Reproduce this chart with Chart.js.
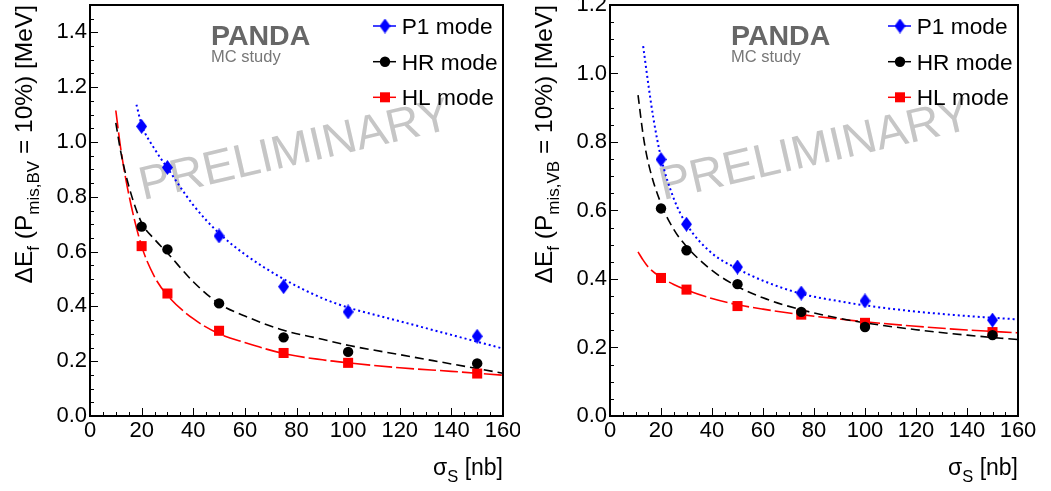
<!DOCTYPE html>
<html>
<head>
<meta charset="utf-8">
<script src="https://cdn.jsdelivr.net/npm/chart.js@4.4.1/dist/chart.umd.min.js"></script>
<style>
  html, body { margin: 0; padding: 0; background: #fff; }
  #wrap { position: relative; width: 1051px; height: 491px; overflow: hidden; }
  .panel { position: absolute; top: 0; height: 491px; }
  #left { left: 0; width: 520px; }
  #right { left: 520px; width: 531px; }
</style>
</head>
<body>
<div id="wrap">
  <div class="panel" id="left"><canvas id="bvChart" width="520" height="491"></canvas></div>
  <div class="panel" id="right"><canvas id="vbChart" width="531" height="491"></canvas></div>
</div>
<script>
const FONT = '"Liberation Sans", Arial, Helvetica, sans-serif';

// measured points, sigma_S in nb
const sigmaPoints = [20, 30, 50, 75, 100, 150];
const modeLabels = ['P1 mode', 'HR mode', 'HL mode'];

// left panel: P_mis,BV = 10%
const bvP1 = [1.057, 0.907, 0.657, 0.472, 0.380, 0.291];
const bvHR = [0.691, 0.608, 0.411, 0.287, 0.234, 0.192];
const bvHL = [0.620, 0.447, 0.311, 0.230, 0.194, 0.155];

// right panel: P_mis,VB = 10%
const vbP1 = [0.749, 0.560, 0.435, 0.359, 0.336, 0.280];
const vbHR = [0.606, 0.484, 0.385, 0.304, 0.260, 0.236];
const vbHL = [0.403, 0.369, 0.321, 0.296, 0.272, 0.245];

// fit curves
const bvFitP1X = [18, 20, 25, 30, 40, 50, 60, 75, 90, 100, 120, 140, 160];
const bvFitP1 = [1.136, 1.063, 0.975, 0.905, 0.77, 0.667, 0.59, 0.50, 0.43, 0.396, 0.346, 0.296, 0.246];
const bvFitX = [10, 12, 15, 20, 25, 30, 40, 50, 60, 75, 90, 100, 120, 140, 160];
const bvFitHR = [1.07, 0.96, 0.84, 0.705, 0.645, 0.595, 0.49, 0.41, 0.365, 0.313, 0.28, 0.258, 0.224, 0.19, 0.156];
const bvFitHL = [1.115, 0.97, 0.81, 0.62, 0.508, 0.44, 0.355, 0.30, 0.268, 0.228, 0.205, 0.194, 0.176, 0.163, 0.149];

const vbFitP1X = [13, 15, 17, 20, 25, 30, 40, 50, 60, 75, 90, 100, 120, 140, 160];
const vbFitP1 = [1.08, 0.97, 0.87, 0.755, 0.635, 0.56, 0.475, 0.43, 0.395, 0.357, 0.335, 0.323, 0.305, 0.292, 0.282];
const vbFitX = [11, 13, 15, 20, 25, 30, 40, 50, 60, 75, 90, 100, 120, 140, 160];
const vbFitHR = [0.937, 0.82, 0.74, 0.62, 0.545, 0.495, 0.425, 0.378, 0.345, 0.31, 0.285, 0.272, 0.252, 0.236, 0.223];
const vbFitHL = [0.479, 0.455, 0.435, 0.405, 0.384, 0.368, 0.343, 0.325, 0.312, 0.296, 0.283, 0.275, 0.262, 0.251, 0.243];

function pts(xs, ys) {
  return xs.map((x, i) => ({ x: x, y: ys[i] }));
}

// narrow ROOT-like diamond marker
function makeDiamond(w, h, color) {
  const c = document.createElement('canvas');
  c.width = w; c.height = h;
  const g = c.getContext('2d');
  g.fillStyle = color;
  g.beginPath();
  g.moveTo(w / 2, 0); g.lineTo(w, h / 2); g.lineTo(w / 2, h); g.lineTo(0, h / 2);
  g.closePath();
  g.fill();
  return c;
}
const diamond = makeDiamond(11, 15, '#0000ff');

function richWidth(ctx, parts) {
  let w = 0;
  parts.forEach(p => { ctx.font = p.size + 'px ' + FONT; w += ctx.measureText(p.t).width; });
  return w;
}
function drawRich(ctx, parts, x, y) {
  parts.forEach(p => {
    ctx.font = p.size + 'px ' + FONT;
    ctx.fillText(p.t, x, y + (p.dy || 0));
    x += ctx.measureText(p.t).width;
  });
}

const rootStyle = {
  id: 'rootStyle',
  beforeDatasetsDraw(chart) {
    const ctx = chart.ctx, ca = chart.chartArea;
    ctx.save();
    ctx.translate(ca.left + 53, ca.top + 195);
    ctx.rotate(-13 * Math.PI / 180);
    ctx.font = '47px ' + FONT;
    ctx.fillStyle = '#c6c6c6';
    ctx.textBaseline = 'alphabetic';
    ctx.fillText('PRELIMINARY', 0, 0);
    ctx.restore();
  },
  afterDraw(chart, args, opts) {
    const ctx = chart.ctx, ca = chart.chartArea;
    const xs = chart.scales.x, ys = chart.scales.y;
    ctx.save();
    ctx.strokeStyle = '#000';

    // inward ticks
    ctx.lineWidth = 1;
    ctx.beginPath();
    for (let v = 0; v <= xs.max; v += 5) {
      const px = Math.round(xs.getPixelForValue(v)) + 0.5;
      const len = v % 20 === 0 ? 8 : 4;
      ctx.moveTo(px, ca.bottom); ctx.lineTo(px, ca.bottom - len);
    }
    for (let k = 0; k * 0.05 <= ys.max + 1e-9; k++) {
      const py = Math.round(ys.getPixelForValue(k * 0.05)) + 0.5;
      const len = k % 4 === 0 ? 8 : 4;
      ctx.moveTo(ca.left, py); ctx.lineTo(ca.left + len, py);
    }
    ctx.stroke();

    // frame
    ctx.lineWidth = 2;
    ctx.strokeRect(ca.left, ca.top, ca.right - ca.left, ca.bottom - ca.top);

    // PANDA label
    ctx.fillStyle = '#676767';
    ctx.textBaseline = 'alphabetic';
    ctx.textAlign = 'left';
    ctx.font = 'bold 28.5px ' + FONT;
    ctx.fillText('PANDA', ca.left + 121, ca.top + 40);
    ctx.fillStyle = '#777';
    ctx.font = '16.5px ' + FONT;
    ctx.fillText('MC study', ca.left + 121, ca.top + 56.5);

    // legend
    const mx = ca.right - 118;
    const rows = [21, 56.7, 92.3];
    const colors = ['#0000ff', '#000000', '#ff0000'];
    rows.forEach((r, i) => {
      const y = ca.top + r;
      ctx.strokeStyle = colors[i];
      ctx.lineWidth = 1.5;
      ctx.beginPath(); ctx.moveTo(mx - 12, y); ctx.lineTo(mx + 11, y); ctx.stroke();
      ctx.fillStyle = colors[i];
      if (i === 0) ctx.drawImage(diamond, mx - diamond.width / 2, y - diamond.height / 2);
      if (i === 1) { ctx.beginPath(); ctx.arc(mx, y, 5.2, 0, Math.PI * 2); ctx.fill(); }
      if (i === 2) ctx.fillRect(mx - 5, y - 5, 10, 10);
      ctx.fillStyle = '#000';
      ctx.font = '22.7px ' + FONT;
      ctx.fillText(modeLabels[i], mx + 16.7, y + 8);
    });

    // x title
    ctx.fillStyle = '#000';
    const xt = [{ t: 'σ', size: 23 }, { t: 'S', size: 16.5, dy: 7 }, { t: ' [nb]', size: 23 }];
    drawRich(ctx, xt, ca.right - richWidth(ctx, xt), 475);

    // y title
    const yt = [
      { t: 'ΔE', size: 24.5 }, { t: 'f', size: 17, dy: 7 },
      { t: ' (P', size: 24.5 }, { t: opts.sub, size: 17, dy: 7 },
      { t: ' = 10%) [MeV]', size: 24.5 }
    ];
    const w = richWidth(ctx, yt);
    ctx.translate(32, ca.top + w);
    ctx.rotate(-Math.PI / 2);
    drawRich(ctx, yt, 0, 0);
    ctx.restore();
  }
};

function makePanel(id, yMax, sub, rightPad, p1, hr, hl, fP1X, fP1, fX, fHR, fHL) {
  new Chart(document.getElementById(id), {
    type: 'scatter',
    data: {
      datasets: [
        { label: modeLabels[0], data: pts(sigmaPoints, p1), pointStyle: diamond, pointRadius: 7 },
        { label: modeLabels[1], data: pts(sigmaPoints, hr), pointStyle: 'circle', pointRadius: 5.2,
          backgroundColor: '#000', borderColor: '#000', borderWidth: 0 },
        { label: modeLabels[2], data: pts(sigmaPoints, hl), pointStyle: 'rect', pointRadius: 7.1,
          backgroundColor: '#ff0000', borderColor: '#ff0000', borderWidth: 0 },
        { label: 'P1 fit', data: pts(fP1X, fP1), showLine: true, pointRadius: 0,
          borderColor: '#0000ff', borderWidth: 2, borderDash: [2, 3], cubicInterpolationMode: 'monotone' },
        { label: 'HR fit', data: pts(fX, fHR), showLine: true, pointRadius: 0,
          borderColor: '#000', borderWidth: 1.6, borderDash: [9, 5], cubicInterpolationMode: 'monotone' },
        { label: 'HL fit', data: pts(fX, fHL), showLine: true, pointRadius: 0,
          borderColor: '#ff0000', borderWidth: 1.6, borderDash: [18, 4], cubicInterpolationMode: 'monotone' }
      ]
    },
    options: {
      responsive: false,
      animation: false,
      devicePixelRatio: 1,
      layout: { padding: { top: 5, right: rightPad, left: 0, bottom: 0 }, autoPadding: false },
      scales: {
        x: {
          type: 'linear', min: 0, max: 160,
          grid: { display: false, drawTicks: false },
          border: { display: false },
          ticks: { stepSize: 20, padding: 2, color: '#000', font: { family: FONT, size: 22 }, maxRotation: 0 },
          afterFit: s => { s.height = 75; s.paddingLeft = 0; s.paddingRight = 0; }
        },
        y: {
          min: 0, max: yMax,
          grid: { display: false, drawTicks: false },
          border: { display: false },
          ticks: { stepSize: 0.2, includeBounds: false, padding: 3, color: '#000',
                   font: { family: FONT, size: 22 }, callback: v => v.toFixed(1) },
          afterFit: s => { s.width = 90; s.paddingTop = 0; s.paddingBottom = 0; }
        }
      },
      plugins: {
        legend: { display: false },
        tooltip: { enabled: false },
        rootStyle: { sub: sub }
      }
    },
    plugins: [rootStyle]
  });
}

makePanel('bvChart', 1.5, 'mis,BV', 17, bvP1, bvHR, bvHL, bvFitP1X, bvFitP1, bvFitX, bvFitHR, bvFitHL);
makePanel('vbChart', 1.2, 'mis,VB', 33, vbP1, vbHR, vbHL, vbFitP1X, vbFitP1, vbFitX, vbFitHR, vbFitHL);
</script>
</body>
</html>
